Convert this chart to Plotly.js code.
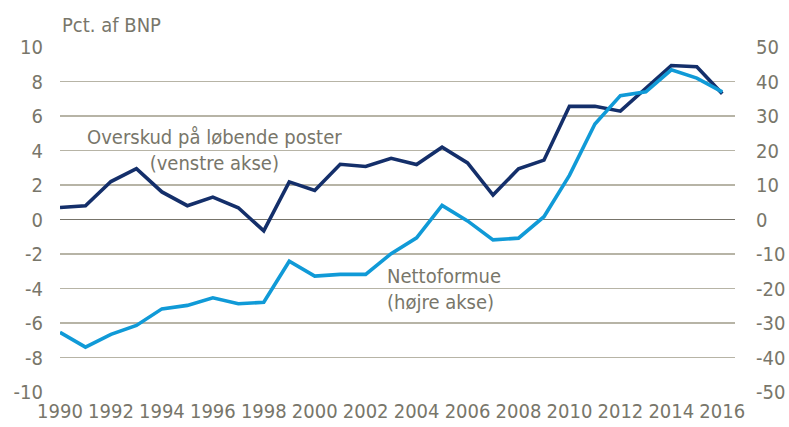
<!DOCTYPE html>
<html>
<head>
<meta charset="utf-8">
<script src="https://cdn.plot.ly/plotly-3.0.1.min.js"></script>
<style>html,body{margin:0;padding:0;background:#fff;}#chart{width:789px;height:427px;}</style>
</head>
<body>
<div id="chart"></div>
<script>
const years = [1990,1991,1992,1993,1994,1995,1996,1997,1998,1999,2000,2001,2002,2003,2004,2005,2006,2007,2008,2009,2010,2011,2012,2013,2014,2015,2016];
// Overskud på løbende poster, pct. af BNP (venstre akse)
const overskud = [0.7,0.8,2.2,2.95,1.6,0.8,1.3,0.68,-0.66,2.18,1.68,3.2,3.07,3.55,3.19,4.19,3.28,1.42,2.94,3.44,6.56,6.56,6.28,7.6,8.93,8.86,7.29];
// Nettoformue, pct. af BNP (højre akse)
const nettoformue = [-32.7,-37.0,-33.3,-30.7,-25.9,-24.9,-22.7,-24.4,-24.0,-12.1,-16.4,-15.9,-15.9,-9.9,-5.3,4.1,-0.4,-5.9,-5.4,0.8,12.8,27.7,35.9,37.0,43.4,41.0,37.0];
const xTicks = [1990,1992,1994,1996,1998,2000,2002,2004,2006,2008,2010,2012,2014,2016];
const leftTicks = [-10,-8,-6,-4,-2,0,2,4,6,8,10];
const rightTicks = [-50,-40,-30,-20,-10,0,10,20,30,40,50];

const FONT = '"DejaVu Sans Condensed","Liberation Sans Narrow","Arial Narrow",sans-serif';
const TXT = '#78766a';
const GRID = '#b7b4a6';
const FS = 20;

const traces = [
  {x: years, y: overskud, type: 'scatter', mode: 'lines', yaxis: 'y',
   line: {color: '#142f6a', width: 3.6}, name: 'Overskud'},
  {x: years, y: nettoformue, type: 'scatter', mode: 'lines', yaxis: 'y2',
   line: {color: '#109ad7', width: 3.6}, name: 'Nettoformue'}
];

const layout = {
  width: 789, height: 427,
  margin: {l: 60, r: 54, t: 47, b: 35},
  paper_bgcolor: '#ffffff', plot_bgcolor: '#ffffff',
  showlegend: false,
  font: {family: FONT, size: FS, color: TXT},
  xaxis: {range: [1990, 2016.5], tickvals: xTicks, ticktext: xTicks.map(String),
          showgrid: false, zeroline: false, showline: false, ticks: '',
          ticklabelstandoff: 5, tickfont: {family: FONT, size: FS, color: TXT}, fixedrange: true},
  yaxis: {range: [-10, 10], tickvals: leftTicks, ticktext: leftTicks.map(String),
          showgrid: true, gridcolor: GRID, gridwidth: 1.6,
          zeroline: true, zerolinecolor: '#77746a', zerolinewidth: 1.8,
          showline: false, ticks: '', ticklabelstandoff: 16,
          tickfont: {family: FONT, size: FS, color: TXT}, fixedrange: true},
  yaxis2: {range: [-50, 50], tickvals: rightTicks, ticktext: rightTicks.map(String),
           overlaying: 'y', side: 'right', showgrid: false, zeroline: false,
           showline: false, ticks: '', ticklabelstandoff: 20,
           tickfont: {family: FONT, size: FS, color: TXT}, fixedrange: true},
  annotations: [
    {xref: 'paper', yref: 'paper', x: 0, y: 1.064, xanchor: 'left', yanchor: 'middle',
     text: 'Pct. af BNP', showarrow: false, font: {family: FONT, size: FS, color: TXT}},
    {xref: 'x', yref: 'y', x: 1996.05, y: 4.05, xanchor: 'center', yanchor: 'middle',
     text: 'Overskud på løbende poster<br>(venstre akse)', showarrow: false, align: 'center',
     font: {family: FONT, size: FS, color: TXT}},
    {xref: 'x', yref: 'y', x: 2002.75, y: -4.0, xanchor: 'left', yanchor: 'middle',
     text: 'Nettoformue<br>(højre akse)', showarrow: false, align: 'left',
     font: {family: FONT, size: FS, color: TXT}}
  ]
};

Plotly.newPlot('chart', traces, layout, {displayModeBar: false, staticPlot: true});
</script>
</body>
</html>
